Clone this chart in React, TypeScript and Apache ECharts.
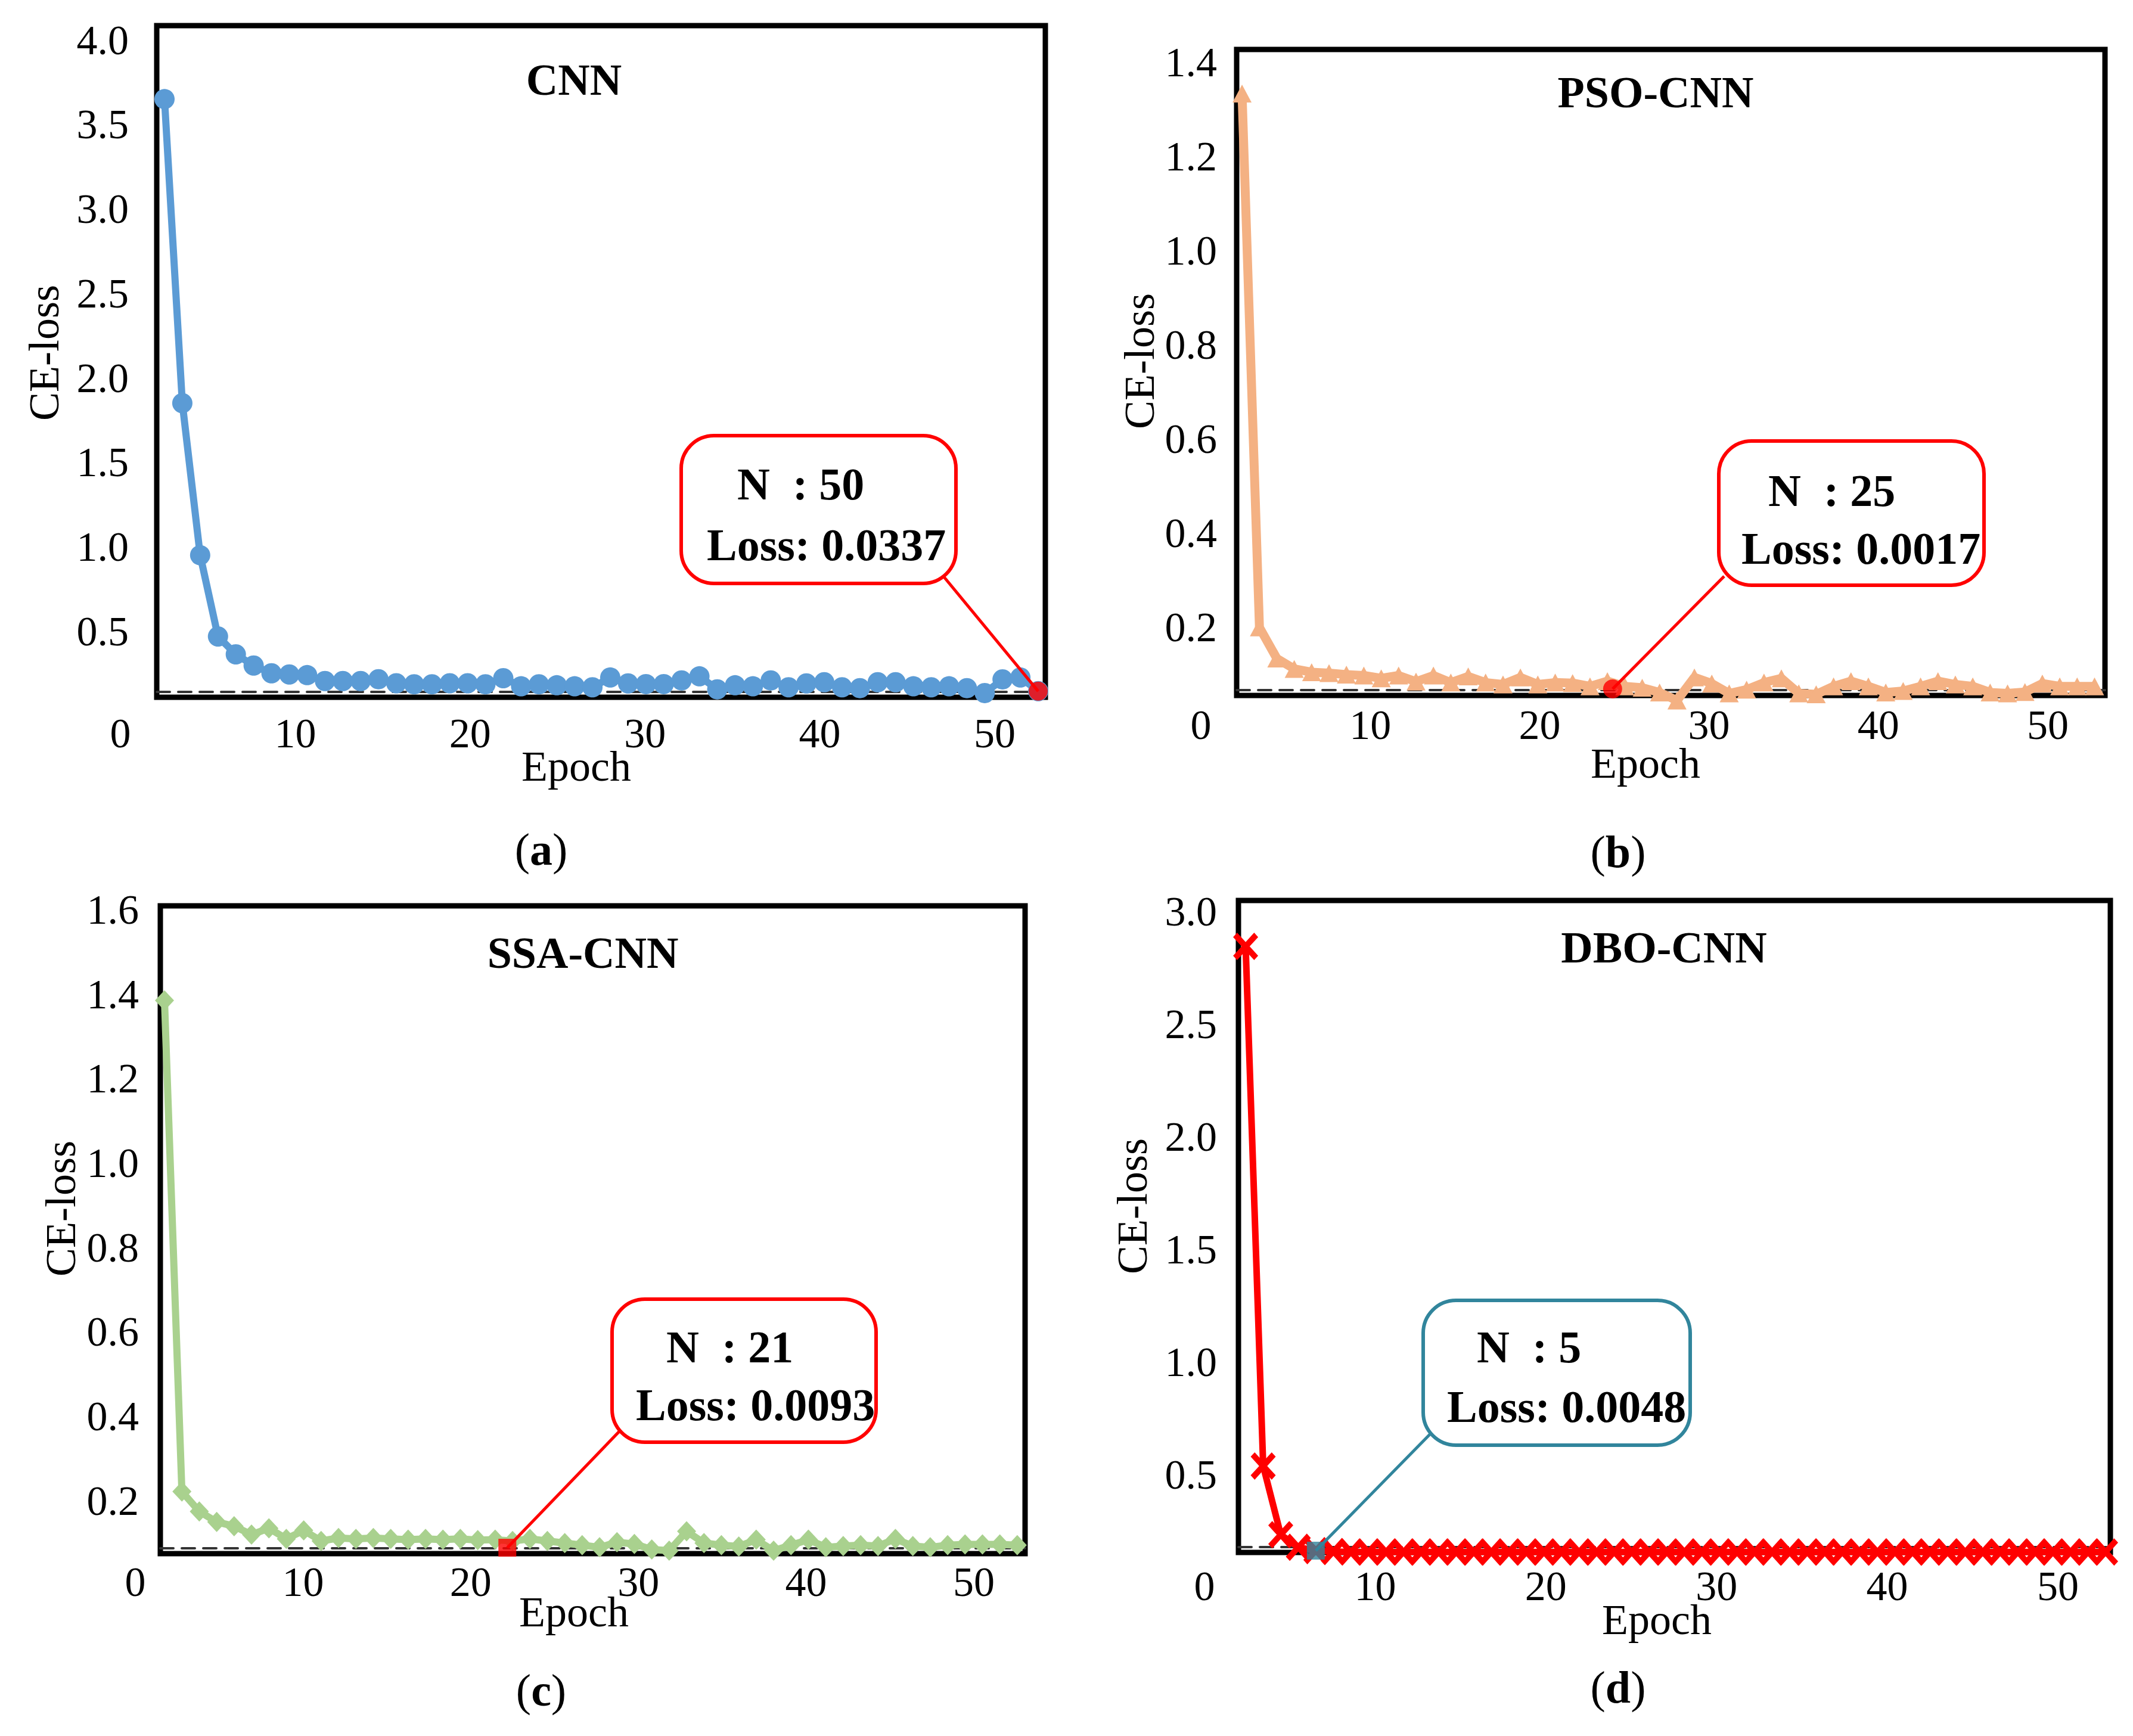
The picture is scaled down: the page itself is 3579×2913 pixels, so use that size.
import React, { useEffect, useRef } from "react";
import * as echarts from "echarts";

const W = 3579;
const H = 2913;
const FONT = '"Liberation Serif", "Times New Roman", serif';

// ---------------- data ----------------
const epochs = [
  1, 2, 3, 4, 5, 6, 7, 8, 9, 10, 11, 12, 13, 14, 15, 16, 17, 18, 19, 20, 21, 22, 23, 24, 25,
  26, 27, 28, 29, 30, 31, 32, 33, 34, 35, 36, 37, 38, 39, 40, 41, 42, 43, 44, 45, 46, 47, 48, 49, 50,
];

const cnnLoss = [
  3.65, 1.85, 0.95, 0.469, 0.363, 0.297, 0.251, 0.244, 0.24, 0.205,
  0.205, 0.205, 0.216, 0.192, 0.186, 0.186, 0.192, 0.192, 0.186, 0.222,
  0.174, 0.186, 0.18, 0.174, 0.168, 0.226, 0.191, 0.187, 0.187, 0.209,
  0.233, 0.156, 0.18, 0.174, 0.209, 0.168, 0.191, 0.198, 0.168, 0.163,
  0.198, 0.198, 0.174, 0.168, 0.174, 0.163, 0.134, 0.215, 0.226, 0.145,
];

const psoLoss = [
  1.333, 0.2, 0.134, 0.112, 0.105, 0.103, 0.1, 0.098, 0.092, 0.098,
  0.085, 0.098, 0.083, 0.096, 0.083, 0.079, 0.094, 0.079, 0.083, 0.082,
  0.075, 0.086, 0.075, 0.072, 0.062, 0.045, 0.094, 0.081, 0.06, 0.068,
  0.083, 0.092, 0.06, 0.058, 0.075, 0.086, 0.075, 0.062, 0.065, 0.075,
  0.086, 0.079, 0.075, 0.062, 0.06, 0.063, 0.081, 0.075, 0.075, 0.075,
];

const ssaLoss = [
  1.385, 0.222, 0.175, 0.15, 0.14, 0.12, 0.135, 0.11, 0.13, 0.105,
  0.112, 0.11, 0.112, 0.11, 0.108, 0.11, 0.108, 0.11, 0.107, 0.108,
  0.105, 0.11, 0.105, 0.1, 0.095, 0.09, 0.102, 0.098, 0.085, 0.082,
  0.128, 0.1, 0.095, 0.092, 0.108, 0.082, 0.095, 0.108, 0.09, 0.093,
  0.095, 0.093, 0.11, 0.093, 0.09, 0.095, 0.097, 0.097, 0.097, 0.095,
];

const dboLoss = [
  2.844, 0.537, 0.232, 0.176, 0.161, 0.157, 0.155, 0.155, 0.155, 0.155,
  0.155, 0.155, 0.155, 0.155, 0.155, 0.155, 0.155, 0.155, 0.155, 0.155,
  0.155, 0.155, 0.155, 0.155, 0.155, 0.155, 0.155, 0.155, 0.155, 0.155,
  0.155, 0.155, 0.155, 0.155, 0.155, 0.155, 0.155, 0.155, 0.155, 0.155,
  0.155, 0.155, 0.155, 0.155, 0.155, 0.155, 0.155, 0.155, 0.155, 0.155,
];

// highlighted points [epoch, loss]
const cnnMarker = [50, 0.145];
const psoMarker = [22.3, 0.0695];
const ssaMarker = [20.7, 0.089];
const dboMarker = [5, 0.161];

const xTickMax = 50;
const xTickStep = 10;

const titles = ["CNN", "PSO-CNN", "SSA-CNN", "DBO-CNN"];
const captions = ["a", "b", "c", "d"];
const annN = ["N  : 50", "N  : 25", "N  : 21", "N  : 5"];
const annLoss = ["Loss: 0.0337", "Loss: 0.0017", "Loss: 0.0093", "Loss: 0.0048"];
const yTopValues = [4.0, 1.4, 1.6, 3.0];
const yTickSteps = [0.5, 0.2, 0.2, 0.5];

const lossSeries = [cnnLoss, psoLoss, ssaLoss, dboLoss];
const markers = [cnnMarker, psoMarker, ssaMarker, dboMarker];

// ---------------- layout / style ----------------
const X_PATH =
  "path://M0,1.6 L1.6,0 L5,3.4 L8.4,0 L10,1.6 L6.6,5 L10,8.4 L8.4,10 L5,6.6 L1.6,10 L0,8.4 L3.4,5 Z";

const PANELS = [
  {
    box: [263, 43, 1754, 1170],
    xRange: [0.565, 50.4],
    yRange: [0.109, 4.085],
    lab: { x0: 202, x50: 1669, y0: 1201, yTopPx: 67, xMargin: -6, yMargin: -14 },
    color: "#5B9BD5",
    symbol: "circle",
    symbolSize: 34,
    lineWidth: 12,
    titlePos: [963, 134],
    epochPos: [967, 1286],
    cePos: [74, 592],
    capPos: [908, 1425],
    ann: { rect: [1143, 731, 1604, 979], stroke: "#FF0000", l1: [1237, 812], l2: [1186, 914], from: [1583, 967] },
    mk: { symbol: "circle", size: 32, color: "#FF0000" },
  },
  {
    box: [2075, 83, 3532, 1167],
    xRange: [0.69, 50.6],
    yRange: [0.0556, 1.4265],
    lab: { x0: 2015, x50: 3436, y0: 1211, yTopPx: 104, xMargin: -30, yMargin: -27 },
    color: "#F4B183",
    symbol: "triangle",
    symbolSize: [32, 30],
    lineWidth: 15,
    titlePos: [2778, 155],
    epochPos: [2761, 1281],
    cePos: [1912, 606],
    capPos: [2715, 1429],
    ann: { rect: [2884, 740, 3329, 982], stroke: "#FF0000", l1: [2967, 823], l2: [2922, 920], from: [2893, 967] },
    mk: { symbol: "circle", size: 32, color: "#FF0000" },
  },
  {
    box: [269, 1520, 1720, 2607],
    xRange: [0.76, 50.45],
    yRange: [0.075, 1.609],
    lab: { x0: 227, x50: 1634, y0: 2660, yTopPx: 1526.5, xMargin: -41, yMargin: -6 },
    color: "#A9D18E",
    symbol: "diamond",
    symbolSize: [32, 34],
    lineWidth: 12,
    titlePos: [978, 1599],
    epochPos: [963, 2705],
    cePos: [102, 2028],
    capPos: [908, 2836],
    ann: { rect: [1027, 2180, 1470, 2420], stroke: "#FF0000", l1: [1118, 2260], l2: [1067, 2357], from: [1039, 2402] },
    mk: { symbol: "rect", size: 30, color: "#FF0000" },
  },
  {
    box: [2078, 1511, 3541, 2605],
    xRange: [0.59, 50.27],
    yRange: [0.153, 3.048],
    lab: { x0: 2021, x50: 3453, y0: 2663, yTopPx: 1529, xMargin: -37, yMargin: -21 },
    color: "#FF0000",
    symbol: X_PATH,
    symbolSize: [42, 46],
    lineWidth: 11,
    titlePos: [2792, 1590],
    epochPos: [2780, 2718],
    cePos: [1900, 2024],
    capPos: [2715, 2831],
    ann: { rect: [2388, 2182, 2836, 2425], stroke: "#31859C", l1: [2478, 2260], l2: [2428, 2360], from: [2400, 2406] },
    mk: { symbol: "rect", size: 30, color: "#31859C" },
  },
];

function buildOption() {
  const grid: any[] = [];
  const xAxis: any[] = [];
  const yAxis: any[] = [];
  const series: any[] = [];

  PANELS.forEach((p, i) => {
    const [l, t, r, b] = p.box;
    grid.push({
      left: l,
      top: t,
      width: r - l,
      height: b - t,
      show: true,
      borderColor: "#000",
      borderWidth: 9,
      backgroundColor: "transparent",
      containLabel: false,
    });
    grid.push({
      left: p.lab.x0,
      top: p.lab.yTopPx,
      width: p.lab.x50 - p.lab.x0,
      height: p.lab.y0 - p.lab.yTopPx,
      show: false,
      containLabel: false,
    });

    xAxis.push({
      gridIndex: 2 * i,
      type: "value",
      min: p.xRange[0],
      max: p.xRange[1],
      offset: -9,
      axisLine: { show: true, onZero: false, lineStyle: { color: "#333", width: 4, type: [22, 14] } },
      axisTick: { show: false },
      axisLabel: { show: false },
      splitLine: { show: false },
    });
    xAxis.push({
      gridIndex: 2 * i + 1,
      type: "value",
      min: 0,
      max: xTickMax,
      interval: xTickStep,
      axisLine: { show: false },
      axisTick: { show: false },
      splitLine: { show: false },
      axisLabel: {
        show: true,
        fontSize: 70,
        fontFamily: FONT,
        color: "#000",
        margin: p.lab.xMargin,
      },
    });

    yAxis.push({
      gridIndex: 2 * i,
      type: "value",
      min: p.yRange[0],
      max: p.yRange[1],
      axisLine: { show: false },
      axisTick: { show: false },
      axisLabel: { show: false },
      splitLine: { show: false },
    });
    yAxis.push({
      gridIndex: 2 * i + 1,
      type: "value",
      min: 0,
      max: yTopValues[i],
      interval: yTickSteps[i],
      axisLine: { show: false },
      axisTick: { show: false },
      splitLine: { show: false },
      axisLabel: {
        show: true,
        fontSize: 70,
        fontFamily: FONT,
        color: "#000",
        margin: p.lab.yMargin,
        formatter: (v: number) => (Math.abs(v) < 1e-9 ? "" : v.toFixed(1)),
      },
    });

    series.push({
      type: "line",
      name: titles[i],
      xAxisIndex: 2 * i,
      yAxisIndex: 2 * i,
      data: epochs.map((e, j) => [e, lossSeries[i][j]]),
      symbol: p.symbol,
      symbolSize: p.symbolSize,
      showSymbol: true,
      lineStyle: { color: p.color, width: p.lineWidth },
      itemStyle: { color: p.color },
      clip: false,
      z: 3,
    });
    series.push({
      type: "scatter",
      name: titles[i] + " best",
      xAxisIndex: 2 * i,
      yAxisIndex: 2 * i,
      data: [markers[i]],
      symbol: p.mk.symbol,
      symbolSize: p.mk.size,
      itemStyle: { color: p.mk.color },
      clip: false,
      z: 20,
    });
  });

  return {
    animation: false,
    backgroundColor: "#ffffff",
    grid,
    xAxis,
    yAxis,
    series,
  };
}

function buildGraphics(chart: any) {
  const g: any[] = [];
  PANELS.forEach((p, i) => {
    const txt = (x: number, y: number, text: string, size: number, bold: boolean, align = "center", rotation = 0) => ({
      type: "text",
      x,
      y,
      rotation,
      z: 12,
      style: {
        text,
        fontSize: size,
        fontFamily: FONT,
        fontWeight: bold ? "bold" : "normal",
        fill: "#000",
        align,
        verticalAlign: "middle",
      },
    });
    g.push(txt(p.titlePos[0], p.titlePos[1], titles[i], 74, true));
    g.push(txt(p.epochPos[0], p.epochPos[1], "Epoch", 72, false));
    g.push(txt(p.cePos[0], p.cePos[1], "CE-loss", 72, false, "center", Math.PI / 2));
    g.push({
      type: "text",
      x: p.capPos[0],
      y: p.capPos[1],
      z: 12,
      style: {
        text: "({b|" + captions[i] + "})",
        fontSize: 76,
        fontFamily: FONT,
        fill: "#000",
        align: "center",
        verticalAlign: "middle",
        rich: { b: { fontSize: 76, fontFamily: FONT, fontWeight: "bold", fill: "#000" } },
      },
    });

    const [rl, rt, rr, rb] = p.ann.rect;
    const pt = chart.convertToPixel({ seriesIndex: 2 * i + 1 }, markers[i]);
    g.push({
      type: "line",
      z: 9,
      shape: { x1: p.ann.from[0], y1: p.ann.from[1], x2: pt[0], y2: pt[1] },
      style: { stroke: p.ann.stroke, lineWidth: 5 },
    });
    g.push({
      type: "rect",
      z: 10,
      shape: { x: rl, y: rt, width: rr - rl, height: rb - rt, r: 55 },
      style: { fill: "#ffffff", stroke: p.ann.stroke, lineWidth: 6 },
    });
    g.push(txt(p.ann.l1[0], p.ann.l1[1], annN[i], 76, true, "left"));
    g.push(txt(p.ann.l2[0], p.ann.l2[1], annLoss[i], 76, true, "left"));
  });
  return g;
}

export default function App() {
  const ref = useRef<HTMLDivElement>(null);
  useEffect(() => {
    document.body.style.margin = "0";
    const chart = echarts.init(ref.current as HTMLDivElement, null, { renderer: "svg", width: W, height: H });
    chart.setOption(buildOption() as any);
    chart.setOption({ graphic: buildGraphics(chart) } as any);
    return () => chart.dispose();
  }, []);
  return (
    <div
      ref={ref}
      style={{ position: "absolute", left: 0, top: 0, width: W, height: H, background: "#fff" }}
    />
  );
}
